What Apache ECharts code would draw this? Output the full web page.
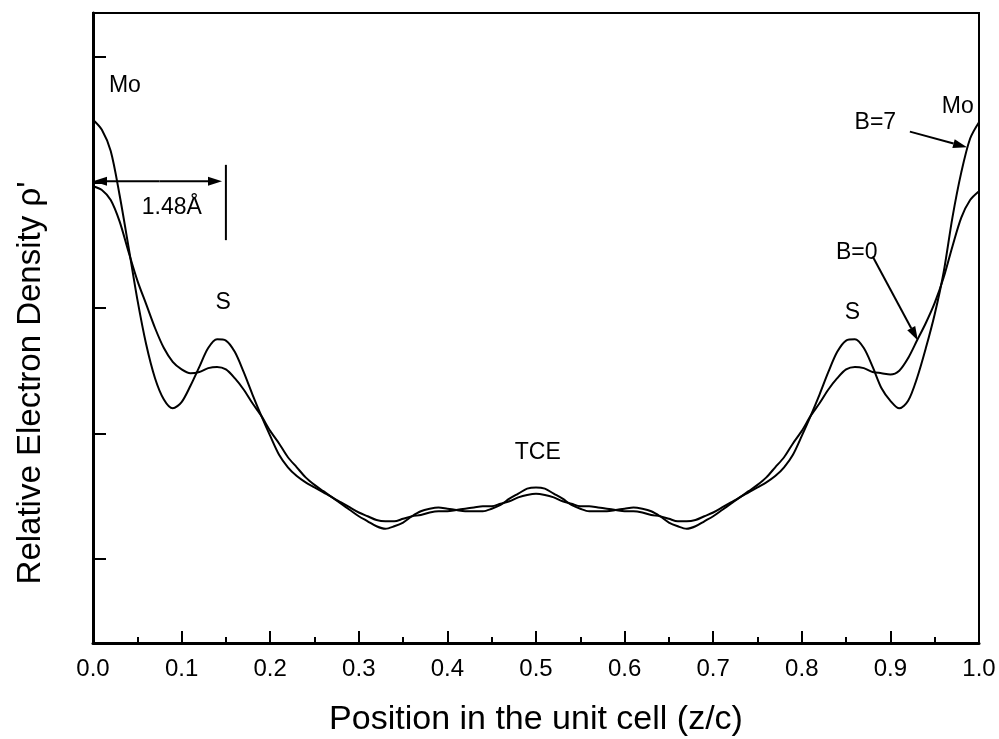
<!DOCTYPE html>
<html>
<head>
<meta charset="utf-8">
<script src="https://cdn.jsdelivr.net/npm/echarts@6/dist/echarts.min.js"></script>
<style>
  html, body { margin: 0; padding: 0; background: #fff; }
  #chart { width: 999px; height: 739px; }
</style>
</head>
<body>
<div id="chart"></div>
<script>
// Electron density profile along z (relative units), sampled every 0.01 of the cell
const positions = [
  0.00, 0.01, 0.02, 0.03, 0.04, 0.05, 0.06, 0.07, 0.08, 0.09,
  0.10, 0.11, 0.12, 0.13, 0.14, 0.15, 0.16, 0.17, 0.18, 0.19,
  0.20, 0.21, 0.22, 0.23, 0.24, 0.25, 0.26, 0.27, 0.28, 0.29,
  0.30, 0.31, 0.32, 0.33, 0.34, 0.35, 0.36, 0.37, 0.38, 0.39,
  0.40, 0.41, 0.42, 0.43, 0.44, 0.45, 0.46, 0.47, 0.48, 0.49,
  0.50, 0.51, 0.52, 0.53, 0.54, 0.55, 0.56, 0.57, 0.58, 0.59,
  0.60, 0.61, 0.62, 0.63, 0.64, 0.65, 0.66, 0.67, 0.68, 0.69,
  0.70, 0.71, 0.72, 0.73, 0.74, 0.75, 0.76, 0.77, 0.78, 0.79,
  0.80, 0.81, 0.82, 0.83, 0.84, 0.85, 0.86, 0.87, 0.88, 0.89,
  0.90, 0.91, 0.92, 0.93, 0.94, 0.95, 0.96, 0.97, 0.98, 0.99,
  1.00
];

// B=7 curve (sharper features)
const rhoB7 = [
  4.50, 4.42, 4.25, 3.90, 3.49, 3.07, 2.71, 2.44, 2.27, 2.20,
  2.25, 2.38, 2.53, 2.68, 2.75, 2.74, 2.65, 2.49, 2.31, 2.14,
  1.98, 1.83, 1.73, 1.66, 1.61, 1.57, 1.53, 1.49, 1.44, 1.39,
  1.34, 1.30, 1.26, 1.24, 1.26, 1.29, 1.34, 1.38, 1.40, 1.41,
  1.40, 1.39, 1.38, 1.38, 1.38, 1.40, 1.43, 1.48, 1.52, 1.56,
  1.57, 1.56, 1.52, 1.48, 1.43, 1.40, 1.38, 1.38, 1.38, 1.39,
  1.40, 1.41, 1.40, 1.38, 1.34, 1.29, 1.26, 1.24, 1.26, 1.30,
  1.34, 1.39, 1.44, 1.49, 1.53, 1.57, 1.61, 1.66, 1.73, 1.83,
  1.98, 2.14, 2.31, 2.49, 2.65, 2.74, 2.75, 2.68, 2.53, 2.36,
  2.26, 2.20, 2.26, 2.44, 2.68, 2.95, 3.28, 3.72, 4.08, 4.35,
  4.48
];

// B=0 curve (broader features)
const rhoB0 = [
  3.97, 3.94, 3.86, 3.69, 3.45, 3.22, 3.03, 2.84, 2.68, 2.57,
  2.51, 2.48, 2.49, 2.52, 2.53, 2.51, 2.44, 2.35, 2.24, 2.14,
  2.02, 1.92, 1.81, 1.73, 1.65, 1.59, 1.54, 1.49, 1.45, 1.41,
  1.37, 1.34, 1.31, 1.30, 1.30, 1.32, 1.34, 1.35, 1.37, 1.38,
  1.38, 1.39, 1.40, 1.41, 1.42, 1.42, 1.44, 1.46, 1.49, 1.51,
  1.52, 1.51, 1.49, 1.46, 1.44, 1.42, 1.42, 1.41, 1.40, 1.39,
  1.38, 1.38, 1.37, 1.35, 1.34, 1.32, 1.30, 1.30, 1.31, 1.34,
  1.37, 1.41, 1.45, 1.49, 1.54, 1.59, 1.65, 1.73, 1.81, 1.92,
  2.02, 2.14, 2.24, 2.35, 2.44, 2.51, 2.53, 2.52, 2.49, 2.48,
  2.47, 2.50, 2.60, 2.74, 2.88, 3.04, 3.24, 3.49, 3.72, 3.86,
  3.93
];

const xTickLabels = ['0.0', '0.1', '0.2', '0.3', '0.4', '0.5', '0.6', '0.7', '0.8', '0.9', '1.0'];
const yTickValues = [1, 2, 3, 4, 5];

const FONT = '"Liberation Sans", Arial, Helvetica, sans-serif';

const chart = echarts.init(document.getElementById('chart'), null, { renderer: 'canvas' });

function pairs(xs, ys) { return xs.map((x, i) => [x, ys[i]]); }

const curveStyle = { color: '#000', width: 2 };

chart.setOption({
  animation: false,
  backgroundColor: '#fff',
  grid: {
    left: 93, right: 20, top: 13, bottom: 96,
    outerBoundsMode: 'none', containLabel: false,
    show: true, borderColor: '#000', borderWidth: 2, backgroundColor: 'transparent'
  },
  xAxis: {
    type: 'value', min: 0, max: 1, interval: 0.1,
    axisLine: { onZero: false, lineStyle: { color: '#000', width: 3 } },
    axisTick: { inside: true, length: 12, lineStyle: { color: '#000', width: 2 } },
    minorTick: { show: true, splitNumber: 2, length: 6, lineStyle: { color: '#000', width: 2 } },
    axisLabel: {
      color: '#000', fontSize: 24, fontFamily: FONT, margin: 14,
      formatter: v => xTickLabels[Math.round(v * 10)]
    },
    splitLine: { show: false },
    name: 'Position in the unit cell (z/c)',
    nameLocation: 'middle', nameGap: 60,
    nameTextStyle: { color: '#000', fontSize: 34, fontFamily: FONT }
  },
  yAxis: {
    type: 'value', min: 0.33, max: 5.35,
    axisLine: { onZero: false, lineStyle: { color: '#000', width: 3 } },
    axisTick: { inside: true, length: 13, customValues: yTickValues, lineStyle: { color: '#000', width: 2 } },
    axisLabel: { show: false },
    splitLine: { show: false },
    name: "Relative Electron Density ρ'",
    nameLocation: 'middle', nameGap: 46, nameRotate: 90,
    nameTextStyle: { color: '#000', fontSize: 33, fontFamily: FONT, padding: [0, 110, 0, 0] }
  },
  series: [
    { name: 'B=7', type: 'line', data: pairs(positions, rhoB7), smooth: 0.3, showSymbol: false, lineStyle: curveStyle, z: 3 },
    { name: 'B=0', type: 'line', data: pairs(positions, rhoB0), smooth: 0.3, showSymbol: false, lineStyle: curveStyle, z: 3 }
  ]
});

// Annotations, placed in data coordinates
const labels = [
  { text: 'Mo', at: [0.036, 4.77] },
  { text: '1.48Å', at: [0.089, 3.80] },
  { text: 'S', at: [0.147, 3.04] },
  { text: 'TCE', at: [0.502, 1.85] },
  { text: 'S', at: [0.857, 2.96] },
  { text: 'Mo', at: [0.976, 4.60] },
  { text: 'B=7', at: [0.883, 4.48] },
  { text: 'B=0', at: [0.862, 3.44] }
];
const arrows = [
  { from: [0.075, 4.01], to: [0.0, 4.01] },
  { from: [0.075, 4.01], to: [0.1456, 4.01] },
  { from: [0.922, 4.405], to: [0.9865, 4.28] },
  { from: [0.880, 3.41], to: [0.931, 2.74] }
];
const bars = [
  { from: [0.150, 4.14], to: [0.150, 3.54] }
];

function toPx(p) { return chart.convertToPixel({ gridIndex: 0 }, p); }

const graphics = [];
labels.forEach(l => {
  const p = toPx(l.at);
  graphics.push({
    type: 'text', x: p[0], y: p[1], z: 10,
    style: { text: l.text, fill: '#000', fontSize: 23, fontFamily: FONT, align: 'center', verticalAlign: 'middle' }
  });
});
arrows.forEach(a => {
  const s = toPx(a.from), t = toPx(a.to);
  const dx = t[0] - s[0], dy = t[1] - s[1];
  const len = Math.hypot(dx, dy), ux = dx / len, uy = dy / len;
  const headL = 14, headW = 4.5;
  const bx = t[0] - ux * headL, by = t[1] - uy * headL;
  graphics.push({
    type: 'line', z: 10,
    shape: { x1: s[0], y1: s[1], x2: bx, y2: by },
    style: { stroke: '#000', lineWidth: 2 }
  });
  graphics.push({
    type: 'polygon', z: 10,
    shape: { points: [[t[0], t[1]], [bx - uy * headW, by + ux * headW], [bx + uy * headW, by - ux * headW]] },
    style: { fill: '#000' }
  });
});
bars.forEach(b => {
  const s = toPx(b.from), t = toPx(b.to);
  graphics.push({
    type: 'line', z: 10,
    shape: { x1: s[0], y1: s[1], x2: t[0], y2: t[1] },
    style: { stroke: '#000', lineWidth: 2 }
  });
});
chart.setOption({ graphic: graphics });
</script>
</body>
</html>
